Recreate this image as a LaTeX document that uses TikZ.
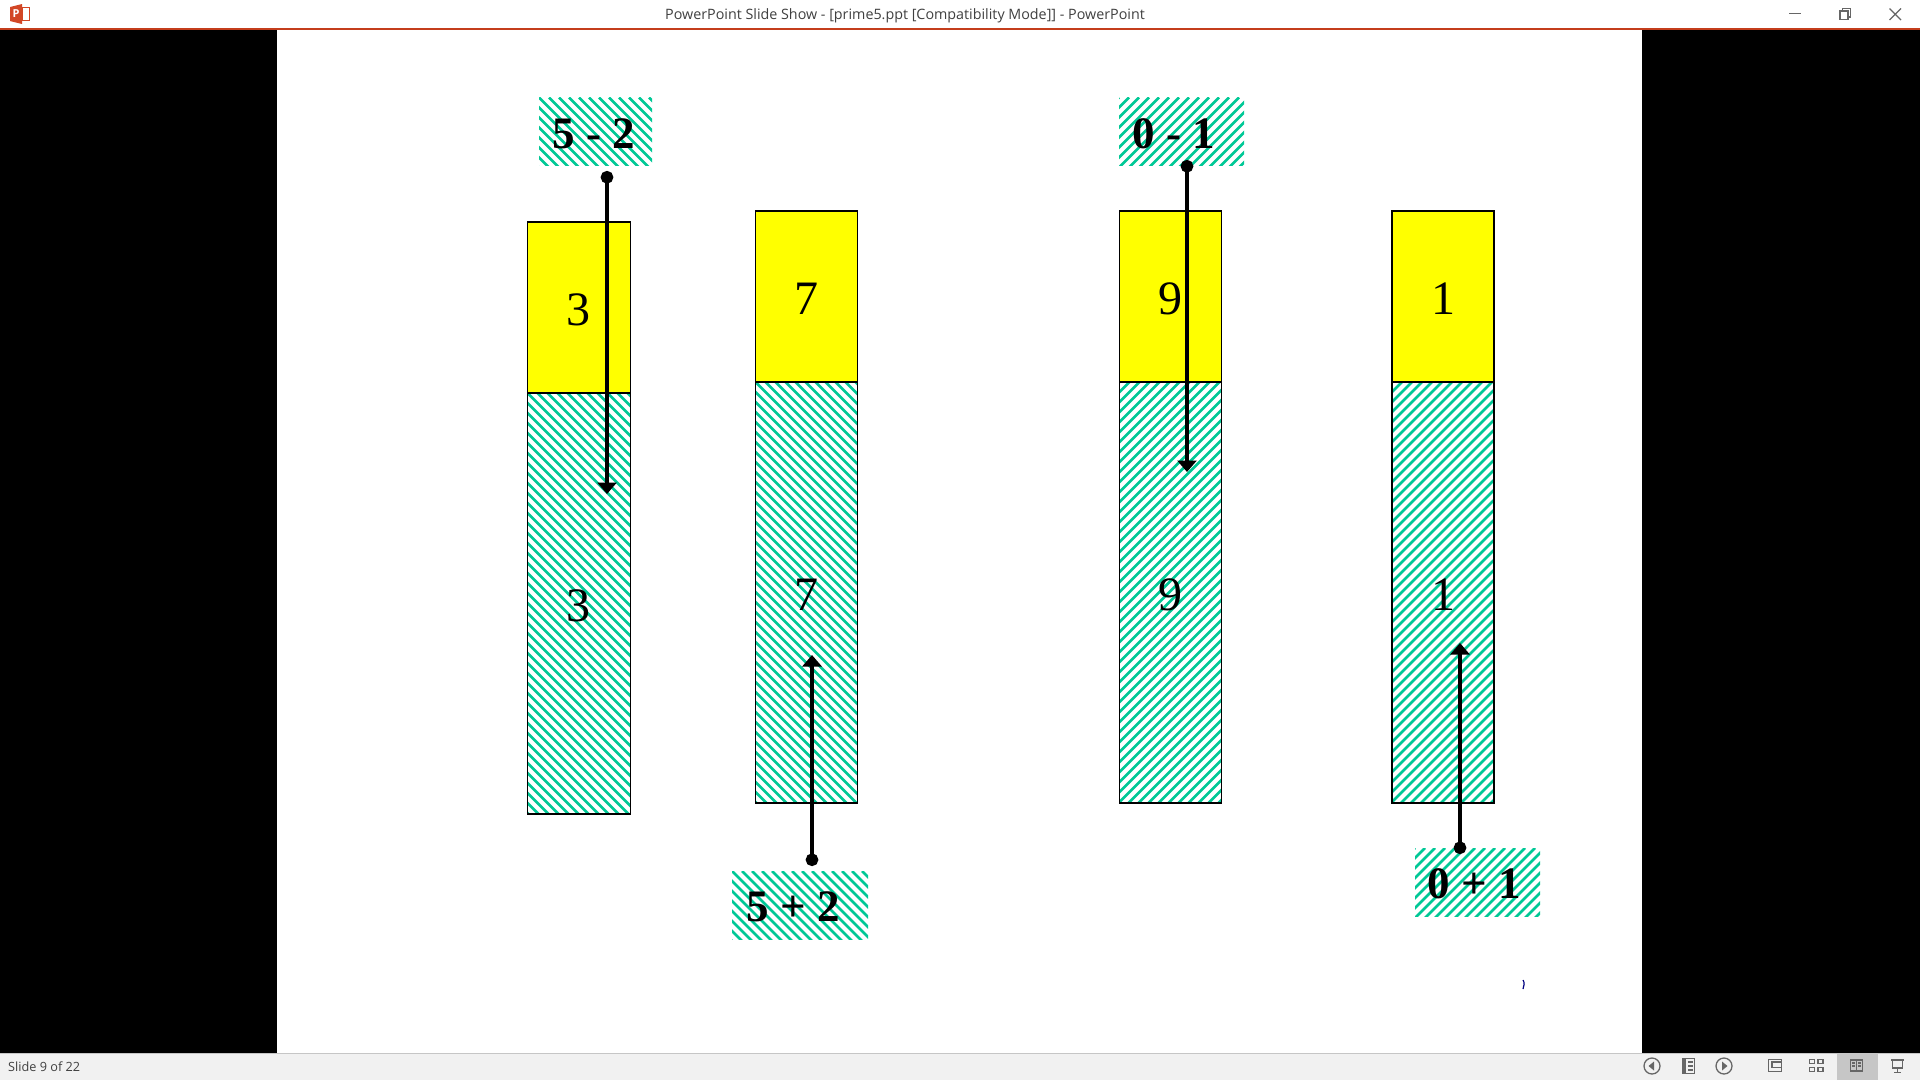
\documentclass[tikz,border=0pt]{standalone}
\usepackage{fontspec}
\setmainfont{Liberation Serif}
\newfontfamily\uifont{Open Sans}
\usetikzlibrary{positioning,arrows.meta}
\definecolor{hatchgreen}{HTML}{00C896}
\definecolor{topyellow}{HTML}{FFFF00}
\definecolor{titleline}{HTML}{C43E1C}
\definecolor{ppticon}{HTML}{D24726}
\definecolor{barback}{HTML}{F1F1F1}
\definecolor{iconback}{HTML}{C6C6C6}
\definecolor{icongrey}{HTML}{666666}
\begin{document}
\begin{tikzpicture}[x=1pt, y=-1pt]
        \tikzset{
            hatchleft/.style={path picture={
                \foreach \k in {-700,-690,...,200} {
                    \draw[hatchgreen, line width=2.7pt] ([xshift=\k pt]path picture bounding box.north west) -- ++(700,700);
                }}},
            hatchright/.style={path picture={
                \foreach \k in {0,10,...,900} {
                    \draw[hatchgreen, line width=2.7pt] ([xshift=\k pt]path picture bounding box.north west) -- ++(-700,700);
                }}},
            topbox/.style={rectangle, draw, fill=topyellow, line width=1.1pt, minimum width=102pt, minimum height=171pt, inner sep=0pt, outer sep=0pt, text height=35pt, text depth=0pt, font=\fontsize{48}{48}\selectfont},
            lowbox/.style={rectangle, draw, line width=1.1pt, minimum width=102pt, minimum height=421pt, inner sep=0pt, outer sep=0pt, text height=35pt, text depth=0pt, font=\fontsize{48}{48}\selectfont},
            signbox/.style={rectangle, minimum height=68pt, inner sep=0pt, outer sep=0pt, text height=33pt, text depth=0pt, font=\fontsize{45}{45}\selectfont\bfseries},
            pointer/.style={line width=4.7pt, {Circle[length=12.5pt]}-{Triangle[width=19pt,length=11.5pt]}},
            uitext/.style={inner sep=0pt, text=black!75, font=\uifont\fontsize{14.3}{16}\selectfont},
            uiicon/.style={icongrey, line width=1.3pt}
        }
        \fill[black] (0,29) rectangle (1920,1053);
        \fill[white] (277,29) rectangle (1642,1053);
        \fill[white] (0,0) rectangle (1920,28);
        \fill[titleline] (0,28) rectangle (1920,29.5);
        \fill[barback] (0,1053) rectangle (1920,1080);
        \fill[iconback] (0,1052.5) rectangle (1920,1053.5);
        \fill[iconback] (1837,1053.5) rectangle (1878,1080);
        \node[topbox, minimum width=103pt] (topa) at (579,307.5) {\hspace*{-2pt}3};
        \node[lowbox, hatchleft, minimum width=103pt, below=0pt of topa] (lowa) {\hspace*{-2pt}3};
        \node[topbox] (topb) at (806.5,296.5) {7};
        \node[lowbox, hatchleft, below=0pt of topb] (lowb) {7};
        \node[topbox] (topc) at (1170.5,296.5) {9};
        \node[lowbox, hatchright, below=0pt of topc] (lowc) {9};
        \node[topbox] (topd) at (1443,296.5) {1};
        \node[lowbox, hatchright, below=0pt of topd] (lowd) {1};
        \node[signbox, hatchleft, minimum width=113pt] (signa) at (595.5,131.5) {\hspace*{-3pt}5 - 2};
        \node[signbox, hatchleft, minimum width=136pt] (signb) at (800,905) {\hspace*{-14pt}5 + 2};
        \node[signbox, hatchright, minimum width=125pt] (signc) at (1181.5,131.5) {\hspace*{-15pt}0 - 1};
        \node[signbox, hatchright, minimum width=125pt] (signd) at (1477.5,882) {\hspace*{-7pt}0 + 1};
        \coordinate (starta) at (607,171);
        \coordinate (enda) at (607,494);
        \coordinate (startb) at (812,866);
        \coordinate (endb) at (812,655);
        \coordinate (startc) at (1187,160);
        \coordinate (endc) at (1187,472);
        \coordinate (startd) at (1460,854);
        \coordinate (endd) at (1460,643);
        \draw[pointer] (starta) -- (enda);
        \draw[pointer] (startb) -- (endb);
        \draw[pointer] (startc) -- (endc);
        \draw[pointer] (startd) -- (endd);
        \draw[blue!50!black, line width=1.2pt] (1523,980) .. controls (1524.5,982) and (1524.5,986) .. (1523,989);
        \node[uitext] (wintitle) at (905,16) {PowerPoint Slide Show - [prime5.ppt [Compatibility Mode]] - PowerPoint};
        \node[uitext, font=\uifont\fontsize{12.7}{14}\selectfont, anchor=west] (slidecount) at (8,1066.5) {Slide 9 of 22};
        \fill[ppticon] (10,7) -- (22,4) -- (22,24) -- (10,21) -- cycle;
        \draw[ppticon, line width=1pt] (22,7.5) rectangle (29.5,20.5);
        \node[inner sep=0pt, text=white, font=\uifont\bfseries\fontsize{11}{11}\selectfont] (pptletter) at (16,14) {P};
        \draw[icongrey, line width=1.2pt] (1789,13.5) -- (1800.5,13.5);
        \draw[icongrey, line width=1.2pt] (1840,11) rectangle (1848,19.5);
        \draw[icongrey, line width=1.2pt] (1842.5,11) -- (1842.5,8.5) -- (1850.5,8.5) -- (1850.5,17) -- (1848,17);
        \draw[icongrey, line width=1.2pt] (1889.5,8.5) -- (1901,20) (1901,8.5) -- (1889.5,20);
        \draw[uiicon] (1652,1066) circle (8);
        \fill[icongrey] (1648.5,1066) -- (1654,1061.5) -- (1654,1070.5) -- cycle;
        \draw[uiicon] (1682.5,1058.5) rectangle (1694.5,1073.5);
        \fill[icongrey] (1682.5,1058.5) rectangle (1686,1073.5);
        \draw[uiicon] (1688,1062) -- (1693,1062) (1688,1066) -- (1693,1066) (1688,1070) -- (1693,1070);
        \draw[uiicon] (1724,1066) circle (8);
        \fill[icongrey] (1727.5,1066) -- (1722,1061.5) -- (1722,1070.5) -- cycle;
        \draw[uiicon] (1768.5,1059.5) rectangle (1781.5,1071.5);
        \draw[uiicon] (1772,1062) rectangle (1781.5,1067.5);
        \draw[uiicon] (1809.5,1059.5) rectangle (1814.5,1063.5);
        \draw[uiicon] (1818,1059.5) rectangle (1823,1063.5);
        \draw[uiicon] (1809.5,1067.5) rectangle (1814.5,1071.5);
        \draw[uiicon] (1818,1067.5) rectangle (1823,1071.5);
        \draw[uiicon] (1850.5,1060) rectangle (1862.5,1071);
        \draw[uiicon] (1856.5,1060) -- (1856.5,1072);
        \draw[uiicon] (1852,1063) -- (1855,1063) (1852,1066) -- (1855,1066) (1858,1063) -- (1861,1063) (1858,1066) -- (1861,1066);
        \draw[uiicon] (1891,1060) -- (1904,1060);
        \draw[uiicon] (1892.5,1060) -- (1892.5,1068) -- (1902.5,1068) -- (1902.5,1060);
        \draw[uiicon] (1897.5,1068) -- (1897.5,1072) (1894,1072.5) -- (1901,1072.5);
        \useasboundingbox (0,0) rectangle (1920,1080);
    \end{tikzpicture}
\end{document}
